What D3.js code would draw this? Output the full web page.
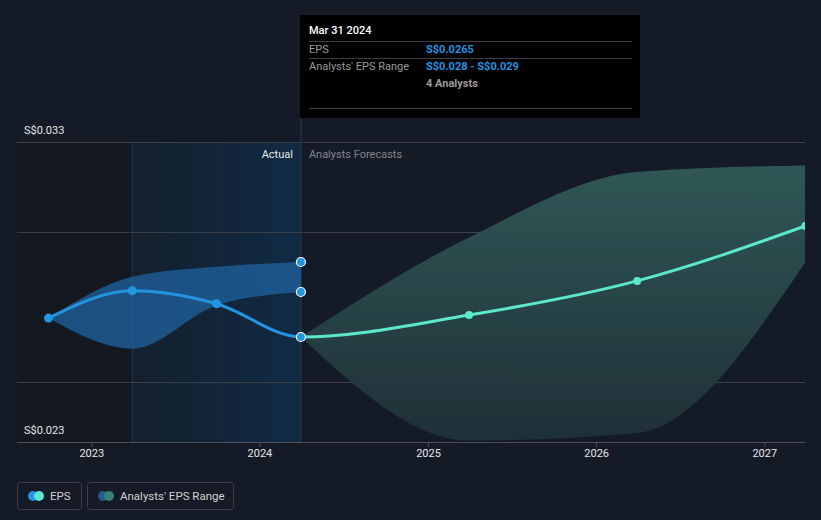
<!DOCTYPE html>
<html><head><meta charset="utf-8">
<script src="https://cdn.jsdelivr.net/npm/d3@7"></script>
<style>
html,body{margin:0;padding:0;background:#151b26;}
svg{display:block;font-family:Roboto,"Open Sans",sans-serif;}
</style></head>
<body>
<svg id="c" width="821" height="520"></svg>
<script>
// ---- data ----
const actualDates = ["2022-09-30","2023-03-31","2023-09-30","2024-03-31"];
const actualEps = [0.02713,0.02804,0.02761,0.0265];
const actualLow = [0.02713,0.02611,0.02755,0.028];
const actualHigh = [0.02713,0.02851,0.02884,0.029];
const forecastDates = ["2024-03-31","2025-03-31","2026-03-31","2027-03-31"];
const forecastEps = [0.0265,0.02723,0.02837,0.0302];
const forecastLow = [0.0265,0.02305,0.0233,0.029];
const forecastHigh = [0.0265,0.02982,0.0320,0.03222];
const yTickValues = [0.023,0.025,0.030,0.033];
const yLabelValues = [0.033,0.023];
const xTickYears = [2023,2024,2025,2026,2027];
const legendItems = ["EPS","Analysts' EPS Range"];

const parse = d3.timeParse("%Y-%m-%d");
const svg = d3.select("#c");
const L=17, R=805, T=142, B=442;
const x = d3.scaleTime().domain([new Date(2023,0,1), new Date(2027,0,1)])
  .range([91.3, 764.3]);
const y = d3.scaleLinear().domain([0.023,0.033]).range([B,T]);
const xAt = s=>x(parse(s));
const splitX = xAt("2024-03-31");
const pastStart = xAt("2023-03-31");

const defs = svg.append("defs");
const g1 = defs.append("linearGradient").attr("id","past").attr("x1",0).attr("x2",1).attr("y1",0).attr("y2",0);
g1.append("stop").attr("offset",0).attr("stop-color","#14202d");
g1.append("stop").attr("offset",1).attr("stop-color","#112a44");
const g2 = defs.append("linearGradient").attr("id","fc").attr("x1",0).attr("x2",0).attr("y1",0).attr("y2",1);
g2.append("stop").attr("offset",0).attr("stop-color","#315a59");
g2.append("stop").attr("offset",1).attr("stop-color","#1f3138");
defs.append("clipPath").attr("id","clip").append("rect").attr("x",L).attr("y",0).attr("width",R-L).attr("height",B);
defs.append("clipPath").attr("id","clipA").append("rect").attr("x",0).attr("y",0).attr("width",splitX).attr("height",B);
defs.append("clipPath").attr("id","clipF").append("rect").attr("x",splitX).attr("y",0).attr("width",R-splitX).attr("height",B);

// background areas
svg.append("rect").attr("x",L).attr("y",T).attr("width",pastStart-L).attr("height",B-T).attr("fill","#141921");
svg.append("rect").attr("x",pastStart).attr("y",T).attr("width",splitX-pastStart).attr("height",B-T).attr("fill","url(#past)");
svg.append("line").attr("x1",pastStart).attr("x2",pastStart).attr("y1",T).attr("y2",B).attr("stroke","#1c3650").attr("stroke-width",1);

// gridlines
svg.append("g").selectAll("line").data(yTickValues).join("line")
  .attr("x1",L).attr("x2",R).attr("y1",d=>Math.round(y(d))+0.5).attr("y2",d=>Math.round(y(d))+0.5)
  .attr("stroke",d=>d===0.023?"#4a4f58":"#3a3f48").attr("stroke-width",1);

// vertical split line
svg.append("line").attr("x1",splitX).attr("x2",splitX).attr("y1",15).attr("y2",B)
  .attr("stroke","#1e3d5c").attr("stroke-width",1);

// y labels
svg.append("g").selectAll("text").data(yLabelValues).join("text")
  .attr("x",24).attr("y",d=>y(d)-8).attr("fill","#e6e6e6").attr("font-size",11)
  .text(d=>"S$"+d.toFixed(3));

// x axis ticks
const xa = svg.append("g").attr("transform",`translate(0,${B})`)
  .call(d3.axisBottom(x).tickValues(xTickYears.map(yy=>new Date(yy,0,1))).tickFormat(d3.timeFormat("%Y")).tickSize(5).tickSizeOuter(0));
xa.select(".domain").remove();
xa.selectAll(".tick line").attr("stroke","#4a4f58");
xa.selectAll(".tick text").attr("fill","#e6e6e6").attr("font-size",11).attr("font-family","Roboto,sans-serif").attr("dy","0.95em").attr("y",5);

// section labels
svg.append("text").attr("x",splitX-8).attr("y",158).attr("text-anchor","end").attr("fill","#e8e8e8").attr("font-size",11).text("Actual");
svg.append("text").attr("x",splitX+8).attr("y",158).attr("fill","#80858d").attr("font-size",11).text("Analysts Forecasts");

const cv = d3.curveMonotoneX;
const plot = svg.append("g").attr("clip-path","url(#clip)");

// forecast band
const fData = forecastDates.map((d,i)=>({x:xAt(d),lo:forecastLow[i],hi:forecastHigh[i],v:forecastEps[i]}));
plot.append("path").datum(fData).attr("fill","url(#fc)").attr("opacity",0.95)
  .attr("d",d3.area().curve(cv).x(d=>d.x).y0(d=>y(d.lo)).y1(d=>y(d.hi)));

// actual band
const aData = actualDates.map((d,i)=>({x:xAt(d),lo:actualLow[i],hi:actualHigh[i],v:actualEps[i]}));
plot.append("path").datum(aData).attr("fill","#1f63a0").attr("opacity",0.75)
  .attr("d",d3.area().curve(cv).x(d=>d.x).y0(d=>y(d.lo)).y1(d=>y(d.hi)));

// combined EPS line, coloured by section
const allData = aData.concat(fData.slice(1));
const lineGen = d3.line().curve(cv).x(d=>d.x).y(d=>y(d.v));
plot.append("g").attr("clip-path","url(#clipF)").append("path").datum(allData).attr("fill","none").attr("stroke","#5de8cb").attr("stroke-width",3)
  .attr("d",lineGen);
plot.append("g").attr("clip-path","url(#clipA)").append("path").datum(allData).attr("fill","none").attr("stroke","#2394e0").attr("stroke-width",3)
  .attr("d",lineGen);

// forecast dots
plot.selectAll(".fd").data(fData.slice(1)).join("circle").attr("cx",d=>d.x).attr("cy",d=>y(d.v)).attr("r",4).attr("fill","#5de8cb");
// actual dots
plot.selectAll(".ad").data(aData.slice(0,3)).join("circle").attr("cx",d=>d.x).attr("cy",d=>y(d.v)).attr("r",4.5).attr("fill","#2394e0");
const last = aData[3];
plot.selectAll(".ld").data([last.hi,last.lo,last.v]).join("circle").attr("cx",last.x).attr("cy",d=>y(d)).attr("r",4.5)
  .attr("fill","#2394e0").attr("stroke","#ffffff").attr("stroke-width",1.2);

// tooltip
const tt = svg.append("g");
tt.append("rect").attr("x",300).attr("y",15).attr("width",340).attr("height",103).attr("fill","#000000");
tt.append("text").attr("x",309).attr("y",34).attr("fill","#ffffff").attr("font-size",11).attr("font-weight",500).text("Mar 31 2024");
[41.5,58.5,108.5].forEach(yy=>tt.append("line").attr("x1",309).attr("x2",632).attr("y1",yy).attr("y2",yy).attr("stroke","#3d3f44"));
tt.append("text").attr("x",309).attr("y",53).attr("fill","#9a9a9a").attr("font-size",11).text("EPS");
tt.append("text").attr("x",426).attr("y",53).attr("fill","#2394e0").attr("font-size",11).attr("font-weight",700).text("S$"+actualEps[3]);
tt.append("text").attr("x",309).attr("y",70).attr("fill","#9a9a9a").attr("font-size",11).text("Analysts' EPS Range");
tt.append("text").attr("x",426).attr("y",70).attr("fill","#2394e0").attr("font-size",11).attr("font-weight",700)
  .text("S$"+actualLow[3].toFixed(3)+" - S$"+actualHigh[3].toFixed(3));
tt.append("text").attr("x",426).attr("y",87).attr("fill","#9a9a9a").attr("font-size",11).attr("font-weight",700).text("4 Analysts");

// legend
const lg = svg.append("g");
const boxes=[{x:17,w:64,c1:"#2394e0",c2:"#5de8cb"},{x:87,w:146,c1:"#1f5d8f",c2:"#3a7f78"}];
boxes.forEach((b,i)=>{
  lg.append("rect").attr("x",b.x+0.5).attr("y",482.5).attr("width",b.w).attr("height",27).attr("rx",3)
    .attr("fill","none").attr("stroke","#3a3f48");
  lg.append("circle").attr("cx",b.x+16).attr("cy",496).attr("r",5).attr("fill",b.c1);
  lg.append("circle").attr("cx",b.x+22).attr("cy",496).attr("r",5).attr("fill",b.c2);
  lg.append("text").attr("x",b.x+33).attr("y",500).attr("fill","#d0d0d0").attr("font-size",11.5).text(legendItems[i]);
});
</script>
</body></html>
